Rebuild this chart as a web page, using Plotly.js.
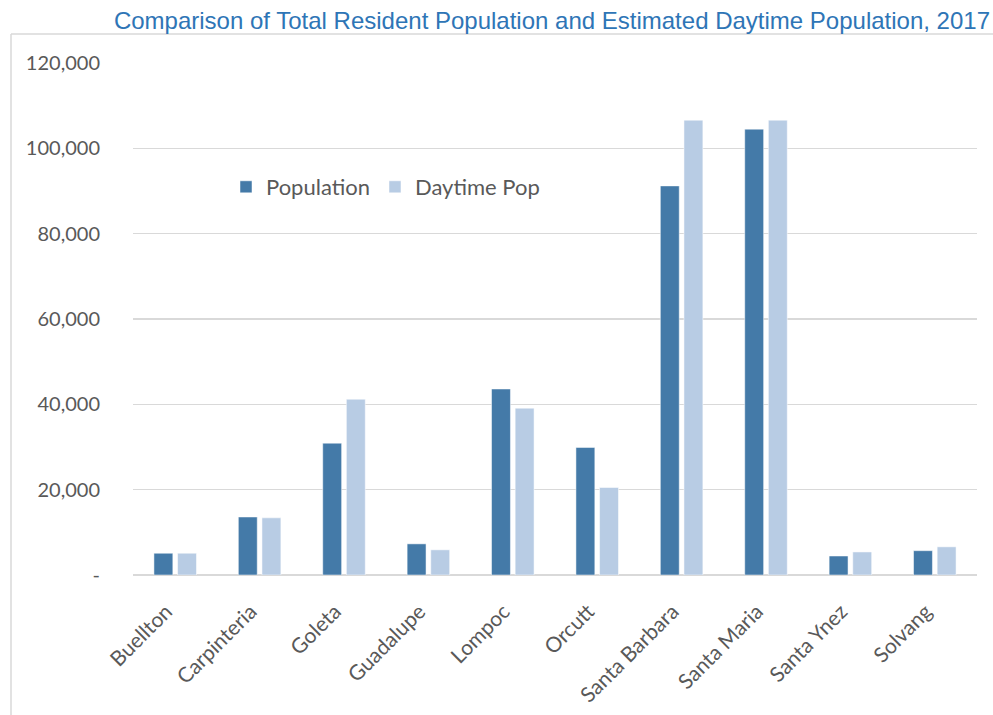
<!DOCTYPE html>
<html>
<head>
<meta charset="utf-8">
<script src="https://cdn.plot.ly/plotly-3.0.1.min.js"></script>
<style>
  html, body { margin: 0; padding: 0; background: #fff; }
  #chart { width: 993px; height: 715px; }
</style>
</head>
<body>
<div id="chart"></div>
<script>
const cities = ["Buellton", "Carpinteria", "Goleta", "Guadalupe", "Lompoc", "Orcutt",
                "Santa Barbara", "Santa Maria", "Santa Ynez", "Solvang"];
const population = [5100, 13600, 30900, 7300, 43600, 29900, 91200, 104500, 4450, 5700];
const daytimePop = [5100, 13400, 41200, 5900, 39100, 20500, 106600, 106600, 5400, 6600];
const yTickVals = [0, 20000, 40000, 60000, 80000, 100000, 120000];
const yTickText = ["-", "20,000", "40,000", "60,000", "80,000", "100,000", "120,000"];

const W = 993, H = 715;
const margin = { l: 133, r: 16, t: 63, b: 140 };
const pw = W - margin.l - margin.r, ph = H - margin.t - margin.b;
function px(x) { return (x - margin.l) / pw; }
function py(y) { return (H - margin.b - y) / ph; }

const traces = [
  { type: "bar", name: "Population", x: cities, y: population,
    marker: { color: "#447AA8", line: { color: "#FFFFFF", width: 0.5 } }, hoverinfo: "x+y" },
  { type: "bar", name: "Daytime Pop", x: cities, y: daytimePop,
    marker: { color: "#B8CCE4", line: { color: "#FFFFFF", width: 0.5 } }, hoverinfo: "x+y" }
];

const layout = {
  width: W, height: H,
  margin: margin,
  paper_bgcolor: "#FFFFFF",
  plot_bgcolor: "#FFFFFF",
  barmode: "group",
  bargap: 0.44,
  bargroupgap: 0.2,
  font: { family: "Lato, 'Open Sans', sans-serif", color: "#595959" },
  title: {
    text: "Comparison of Total Resident Population and Estimated Daytime Population, 2017",
    font: { family: "'Liberation Sans', Arial, sans-serif", size: 24, color: "#2E75B6" },
    xref: "container", x: 990 / W, xanchor: "right",
    yref: "container", y: 1 - 21 / H, yanchor: "middle"
  },
  xaxis: {
    type: "category",
    tickangle: -45,
    tickfont: { size: 21, color: "#595959" },
    showgrid: false,
    showline: false,
    zeroline: false,
    ticks: "outside", ticklen: 15, tickcolor: "rgba(0,0,0,0)",
    ticklabelshift: -9,
    fixedrange: true
  },
  yaxis: {
    range: [0, 120000],
    tickvals: yTickVals,
    ticktext: yTickText,
    tickfont: { size: 20, color: "#595959" },
    showgrid: true, gridcolor: "#D9D9D9", gridwidth: 1.5,
    zeroline: true, zerolinecolor: "#D9D9D9", zerolinewidth: 2,
    showline: false,
    ticks: "outside", ticklen: 28, tickcolor: "rgba(0,0,0,0)",
    fixedrange: true
  },
  legend: {
    orientation: "h",
    x: px(226), xanchor: "left",
    y: py(187), yanchor: "middle",
    font: { size: 22, color: "#595959" },
    bgcolor: "rgba(0,0,0,0)",
    itemwidth: 30,
    traceorder: "normal"
  },
  shapes: [
    { type: "line", xref: "paper", yref: "paper",
      x0: px(11), x1: px(993), y0: py(34), y1: py(34),
      line: { color: "#D9D9D9", width: 1.5 } },
    { type: "line", xref: "paper", yref: "paper",
      x0: px(11), x1: px(11), y0: py(34), y1: py(715),
      line: { color: "#D9D9D9", width: 1.5 } }
  ],
  showlegend: true
};

Plotly.newPlot("chart", traces, layout, { displayModeBar: false, staticPlot: true });
</script>
</body>
</html>
